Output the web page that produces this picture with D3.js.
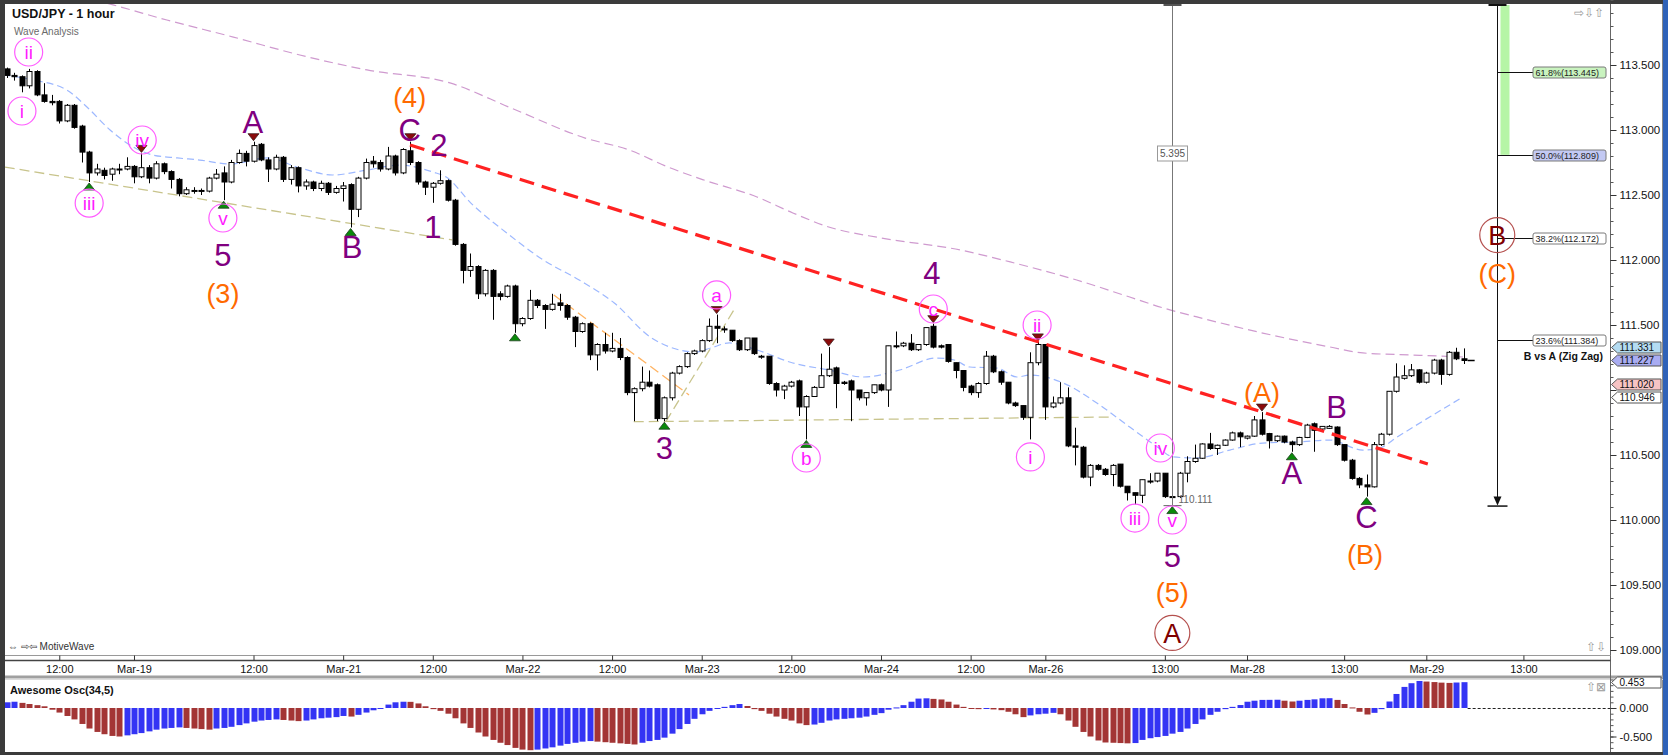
<!DOCTYPE html>
<html>
<head>
<meta charset="utf-8">
<script src="https://cdn.jsdelivr.net/npm/d3@7"></script>
<style>
html, body { margin:0; padding:0; background:#fff; overflow:hidden; }
svg { display:block; font-family:"Liberation Sans", Arial, sans-serif; }
</style>
</head>
<body>
<script>
//------------------------------------------------------------------------------
//
// Data
//
//------------------------------------------------------------------------------

// hourly candles, [open, high, low, close]
var ohlc = [
  [113.47,113.48,113.40,113.42],[113.42,113.44,113.38,113.41],[113.41,113.42,113.29,113.34],[113.34,113.47,113.32,113.45],
  [113.45,113.46,113.26,113.27],[113.27,113.36,113.21,113.22],[113.22,113.27,113.19,113.21],[113.22,113.23,113.05,113.07],
  [113.07,113.20,113.06,113.19],[113.19,113.20,113.01,113.02],[113.03,113.04,112.75,112.83],[112.83,112.84,112.60,112.67],
  [112.67,112.74,112.65,112.70],[112.69,112.71,112.62,112.65],[112.66,112.71,112.61,112.70],[112.70,112.74,112.66,112.70],
  [112.70,112.79,112.69,112.72],[112.72,112.73,112.59,112.64],[112.64,112.82,112.63,112.71],[112.71,112.73,112.59,112.63],
  [112.63,112.76,112.62,112.74],[112.74,112.75,112.66,112.68],[112.68,112.69,112.55,112.62],[112.62,112.63,112.49,112.51],
  [112.51,112.56,112.50,112.54],[112.53,112.56,112.51,112.535],[112.53,112.55,112.50,112.535],[112.53,112.64,112.52,112.63],
  [112.63,112.70,112.62,112.66],[112.67,112.72,112.46,112.60],[112.60,112.77,112.59,112.75],[112.75,112.85,112.74,112.82],
  [112.82,112.84,112.72,112.76],[112.76,112.91,112.75,112.88],[112.89,112.90,112.76,112.77],[112.77,112.79,112.60,112.70],
  [112.70,112.81,112.69,112.79],[112.79,112.80,112.60,112.62],[112.62,112.73,112.58,112.71],[112.71,112.72,112.52,112.57],
  [112.57,112.62,112.54,112.60],[112.60,112.61,112.53,112.55],[112.55,112.61,112.53,112.59],[112.59,112.60,112.50,112.52],
  [112.52,112.57,112.51,112.55],[112.55,112.60,112.45,112.57],[112.58,112.59,112.25,112.39],[112.39,112.64,112.33,112.63],
  [112.63,112.78,112.62,112.75],[112.76,112.80,112.71,112.74],[112.75,112.77,112.68,112.70],[112.70,112.87,112.69,112.80],
  [112.80,112.81,112.65,112.67],[112.67,112.86,112.66,112.85],[112.84,112.91,112.73,112.75],[112.75,112.76,112.58,112.60],
  [112.60,112.61,112.50,112.56],[112.56,112.60,112.44,112.59],[112.59,112.69,112.58,112.61],[112.61,112.62,112.45,112.46],
  [112.46,112.47,112.11,112.12],[112.12,112.13,111.82,111.92],[111.92,112.05,111.87,111.95],[111.95,111.96,111.70,111.74],
  [111.74,111.93,111.72,111.92],[111.92,111.93,111.54,111.72],[111.74,111.76,111.69,111.72],[111.72,111.81,111.71,111.80],
  [111.80,111.81,111.44,111.51],[111.51,111.56,111.49,111.55],[111.55,111.77,111.54,111.69],[111.69,111.70,111.63,111.65],
  [111.65,111.66,111.47,111.62],[111.62,111.74,111.61,111.66],[111.67,111.74,111.61,111.65],[111.65,111.66,111.54,111.56],
  [111.56,111.57,111.33,111.45],[111.45,111.52,111.44,111.51],[111.51,111.52,111.23,111.27],[111.27,111.36,111.15,111.35],
  [111.35,111.44,111.28,111.30],[111.30,111.44,111.29,111.32],[111.32,111.40,111.23,111.25],[111.25,111.26,110.96,110.98],
  [110.98,111.02,110.76,111.01],[111.01,111.18,110.99,111.06],[111.06,111.15,111.02,111.03],[111.04,111.05,110.76,110.78],
  [110.78,110.95,110.76,110.94],[110.94,111.14,110.92,111.13],[111.13,111.19,111.12,111.18],[111.18,111.29,111.17,111.28],
  [111.28,111.31,111.27,111.30],[111.30,111.39,111.29,111.38],[111.38,111.55,111.37,111.49],[111.49,111.58,111.36,111.475],
  [111.47,111.49,111.44,111.465],[111.46,111.46,111.37,111.38],[111.38,111.39,111.30,111.31],[111.31,111.40,111.30,111.40],
  [111.40,111.40,111.27,111.28],[111.26,111.27,111.24,111.26],[111.26,111.26,111.04,111.05],[111.05,111.06,110.95,111.00],
  [111.00,111.04,110.93,111.03],[111.03,111.07,111.02,111.06],[111.07,111.08,110.80,110.87],[110.87,110.96,110.62,110.95],
  [110.95,111.03,110.95,111.02],[111.02,111.28,111.02,111.11],[111.11,111.33,111.10,111.16],[111.17,111.18,110.86,111.05],
  [111.06,111.07,111.04,111.05],[111.07,111.08,110.76,111.00],[111.00,111.00,110.92,110.94],[110.94,110.98,110.88,110.98],
  [110.98,111.04,110.97,111.04],[111.04,111.05,110.99,111.00],[111.00,111.34,110.87,111.34],[111.34,111.45,111.32,111.335],
  [111.34,111.37,111.33,111.36],[111.36,111.43,111.30,111.31],[111.31,111.35,111.30,111.35],[111.35,111.48,111.34,111.48],
  [111.49,111.51,111.32,111.33],[111.34,111.35,111.32,111.33],[111.35,111.35,111.21,111.22],[111.21,111.21,111.09,111.15],
  [111.15,111.15,110.99,111.02],[111.03,111.04,110.96,110.98],[110.98,111.06,110.94,111.05],[111.05,111.30,111.04,111.26],
  [111.26,111.27,111.13,111.14],[111.14,111.15,111.04,111.06],[111.06,111.06,110.89,110.90],[110.90,110.91,110.87,110.88],
  [110.88,110.88,110.77,110.79],[110.79,111.29,110.62,111.21],[111.21,111.37,111.19,111.35],[111.35,111.35,110.77,110.87],
  [110.87,110.95,110.86,110.90],[110.90,111.06,110.89,110.94],[110.94,111.02,110.56,110.57],[110.57,110.71,110.42,110.56],
  [110.56,110.57,110.32,110.33],[110.33,110.43,110.26,110.42],[110.42,110.43,110.38,110.39],[110.39,110.40,110.34,110.35],
  [110.35,110.43,110.26,110.42],[110.43,110.43,110.25,110.26],[110.26,110.26,110.15,110.21],[110.21,110.21,110.12,110.19],
  [110.19,110.31,110.13,110.31],[110.30,110.36,110.28,110.30],[110.30,110.36,110.29,110.36],[110.36,110.36,110.17,110.18],
  [110.18,110.19,110.111,110.175],[110.18,110.37,110.17,110.36],[110.36,110.49,110.29,110.45],[110.45,110.58,110.44,110.475],
  [110.475,110.59,110.47,110.585],[110.585,110.67,110.54,110.55],[110.55,110.58,110.50,110.575],[110.575,110.62,110.57,110.615],
  [110.615,110.68,110.61,110.67],[110.67,110.68,110.56,110.64],[110.63,110.65,110.62,110.645],[110.645,110.80,110.64,110.77],
  [110.77,110.83,110.65,110.66],[110.665,110.67,110.55,110.61],[110.61,110.65,110.60,110.645],[110.645,110.65,110.59,110.60],
  [110.60,110.61,110.525,110.58],[110.58,110.64,110.57,110.635],[110.635,110.74,110.63,110.73],[110.74,110.75,110.525,110.69],
  [110.70,110.72,110.69,110.72],[110.705,110.73,110.70,110.72],[110.715,110.72,110.57,110.58],[110.58,110.58,110.45,110.46],
  [110.46,110.47,110.31,110.32],[110.32,110.33,110.245,110.27],[110.27,110.35,110.18,110.255],[110.255,110.60,110.25,110.58],
  [110.58,110.67,110.57,110.66],[110.66,110.99,110.65,110.99],[110.99,111.205,110.98,111.10],[111.09,111.19,111.08,111.11],
  [111.11,111.20,111.10,111.155],[111.155,111.16,111.05,111.06],[111.06,111.14,111.05,111.13],[111.13,111.24,111.12,111.23],
  [111.23,111.24,111.04,111.12],[111.12,111.30,111.11,111.29],[111.29,111.325,111.23,111.24],[111.24,111.32,111.20,111.227]
];

// Awesome Oscillator, one value per candle
var aoValues = [
  0.10,0.11,0.09,0.07,0.05,0.03,-0.03,-0.08,-0.14,-0.20,-0.28,-0.36,-0.42,-0.46,-0.49,-0.50,
  -0.48,-0.46,-0.44,-0.41,-0.38,-0.36,-0.35,-0.34,-0.35,-0.36,-0.37,-0.38,-0.36,-0.35,-0.33,-0.30,
  -0.27,-0.24,-0.22,-0.21,-0.20,-0.21,-0.22,-0.23,-0.22,-0.20,-0.18,-0.17,-0.16,-0.14,-0.15,-0.12,
  -0.08,-0.04,-0.01,0.06,0.10,0.11,0.108,0.08,0.03,-0.02,-0.05,-0.10,-0.18,-0.27,-0.35,-0.43,
  -0.50,-0.56,-0.61,-0.65,-0.70,-0.73,-0.74,-0.73,-0.71,-0.69,-0.66,-0.63,-0.61,-0.59,-0.58,-0.59,
  -0.60,-0.61,-0.62,-0.63,-0.64,-0.61,-0.58,-0.56,-0.52,-0.45,-0.37,-0.28,-0.19,-0.11,-0.05,-0.01,
  0.02,0.05,0.07,0.035,-0.02,-0.05,-0.10,-0.15,-0.19,-0.22,-0.27,-0.30,-0.29,-0.26,-0.22,-0.20,
  -0.19,-0.18,-0.17,-0.15,-0.12,-0.09,-0.03,0.01,0.05,0.11,0.165,0.17,0.16,0.15,0.11,0.06,
  0.02,-0.01,-0.02,-0.01,-0.025,-0.038,-0.066,-0.11,-0.16,-0.13,-0.11,-0.10,-0.085,-0.11,-0.22,-0.33,
  -0.42,-0.50,-0.57,-0.605,-0.61,-0.615,-0.62,-0.615,-0.56,-0.53,-0.51,-0.49,-0.45,-0.42,-0.36,-0.28,
  -0.20,-0.12,-0.066,-0.02,0.02,0.052,0.11,0.128,0.142,0.143,0.145,0.128,0.114,0.128,0.142,0.152,
  0.17,0.172,0.142,0.07,0.01,-0.066,-0.114,-0.085,-0.02,0.114,0.246,0.37,0.435,0.474,0.464,0.455,
  0.445,0.44,0.447,0.453
];

// moving averages, [candle index, price]
var maFast = [
  [-0.5,113.423],[3.5,113.385],[8,113.308],[10.7,113.177],[13.8,113.0],[16.9,112.869],[19.5,112.808],
  [22.8,112.785],[25.8,112.769],[29.9,112.738],[34.8,112.785],[39.2,112.708],[43.6,112.654],[48.2,112.692],
  [52.6,112.73],[57,112.677],[58.8,112.638],[62.1,112.438],[66.9,112.208],[71.8,112.0],[76.6,111.846],
  [81.3,111.669],[86.1,111.408],[90,111.308],[92.2,111.292],[94.2,111.323],[96.7,111.362],[100.4,111.308],
  [105.2,111.208],[110,111.154],[114.7,111.1],[119.5,111.154],[124.4,111.246],[126.8,111.231],[128.9,111.177],
  [132.5,111.169],[135.2,111.1],[137,111.115],[141.4,111.054],[145.9,110.9],[150.3,110.715],[154,110.562],
  [156.1,110.485],[159.3,110.477],[163.7,110.538],[168.1,110.592],[172.7,110.6],[177.1,110.615],[181.5,110.538],
  [183.8,110.554],[186.1,110.638],[194.9,110.946]
];
var maSlow = [
  [8,114.05],[14.2,113.962],[21.4,113.846],[30.3,113.715],[39.2,113.577],[48.2,113.462],[59.3,113.362],
  [67.5,113.169],[77.4,112.938],[83.3,112.846],[88.5,112.715],[93.3,112.615],[100.4,112.485],[105.2,112.362],
  [110,112.254],[117.1,112.169],[127.6,112.077],[134.3,111.985],[143.2,111.846],[150.3,111.715],[154.8,111.631],
  [159.3,111.562],[168.1,111.438],[177.1,111.331],[181.5,111.285],[188.2,111.269],[194.9,111.254]
];

// channel / trend lines, [[index, price], [index, price]]
var trendLine = [[53.95,112.885],[190.2,110.431]];
var channelLines = [
  {pts:[[-0.3,112.715],[59.6,112.154]], color:"#c8c48c"},
  {pts:[[83.9,110.756],[147.7,110.792]], color:"#c8c48c"},
  {pts:[[73.2,111.731],[91.3,110.962]], color:"#ffb463"},
  {pts:[[88.2,110.756],[97.3,111.615]], color:"#c8c48c"}
];

var priceTicks = [109, 109.5, 110, 110.5, 111, 111.5, 112, 112.5, 113, 113.5];
var timeTicks = [
  [7,"12:00"],[17,"Mar-19"],[33,"12:00"],[45,"Mar-21"],[57,"12:00"],[69,"Mar-22"],[81,"12:00"],
  [93,"Mar-23"],[105,"12:00"],[117,"Mar-24"],[129,"12:00"],[139,"Mar-26"],[155,"13:00"],
  [166,"Mar-28"],[179,"13:00"],[190,"Mar-29"],[203,"13:00"]
];

// swing markers: candle indices
var lowMarks = [11, 29, 46, 68, 88, 107, 156, 172, 182];
var highMarks = [18, 33, 54, 95, 110, 124, 138, 168];

// wave labels [text, index, price]
var subLabels = [
  ["ii",2.9,113.60],["i",2.0,113.146],["iv",18.1,112.923],["iii",11.0,112.438],["v",28.9,112.323],
  ["a",95.0,111.731],["b",107.0,110.477],["c",124.0,111.623],
  ["ii",137.9,111.50],["i",137.0,110.485],["iv",154.4,110.554],["iii",151.0,110.015],["v",156.0,110.0]
];
var minorLabels = [
  ["5",28.9,112.038],["A",32.9,113.062],["B",46.2,112.10],["C",53.9,113.0],["2",57.8,112.885],["1",57.0,112.254],
  ["3",88.0,110.554],["4",123.8,111.90],["5",156.0,109.723],["A",172.0,110.362],["B",178.0,110.869],["C",182.0,110.023]
];
var intermediateLabels = [
  ["(4)",53.9,113.254],["(3)",28.9,111.746],["(5)",156.0,109.446],["(A)",168.0,110.985],["(B)",181.8,109.738],["(C)",199.5,111.90]
];
var primaryLabels = [["A",156.0,109.131],["B",199.5,112.192]];

// B vs A retracement tool
var fibIndex = 199.5, fibLow = 110.111;
var fibLevels = [
  ["61.8%", 113.445, "#c9f3bf"],
  ["50.0%", 112.809, "#c3c9f3"],
  ["38.2%", 112.172, "#ffffff"],
  ["23.6%", 111.384, "#ffffff"]
];
var measureIndex = 156, measureText = "5.395", measureLowText = "110.111";

// tags on the price axis [price, fill]
var priceTags = [[111.331,"#b4dcf2"],[111.227,"#a9acf2"],[111.020,"#f7c4c4"],[110.946,"#ffffff"]];
var aoLast = 0.453;


//------------------------------------------------------------------------------
//
// Chart
//
//------------------------------------------------------------------------------

var chart = {

plot : { left: 5, right: 1610, top: 4, bottom: 655 },
osc : { top: 679, bottom: 751 },
candleWidth: 5,
tagGap: 13,

initialize : function() {
  this.svg = d3.select("body").append("svg")
    .attr("width", 1668)
    .attr("height", 755);

  this.x = d3.scaleLinear().domain([0, 195]).range([7, 7 + 195 * 7.47]);
  this.y = d3.scaleLinear().domain([109, 114]).range([650, 0]);
  this.yOsc = d3.scaleLinear().domain([0, -0.5]).range([708, 736.5]);

  var defs = this.svg.append("defs");
  defs.append("clipPath").attr("id", "clipPrice").append("rect")
    .attr("x", this.plot.left).attr("y", this.plot.top)
    .attr("width", this.plot.right - this.plot.left).attr("height", this.plot.bottom - this.plot.top);
  defs.append("clipPath").attr("id", "clipOsc").append("rect")
    .attr("x", this.plot.left).attr("y", this.osc.top)
    .attr("width", this.plot.right - this.plot.left).attr("height", this.osc.bottom - this.osc.top);

  this.drawFrame();
  this.price = this.svg.append("g").attr("clip-path", "url(#clipPrice)");
  this.drawGuides();
  this.drawAverages();
  this.drawCandles();
  this.drawMarkers();
  this.drawTools();
  this.drawLabels();
  this.drawAxes();
  this.drawOscillator();
  this.drawTags();
},

//--------------------------------------
// Frame
//--------------------------------------

drawFrame : function() {
  var s = this.svg;
  s.append("rect").attr("width", 1668).attr("height", 755).attr("fill", "#ffffff");
  s.append("rect").attr("x", 0).attr("y", 0).attr("width", 1668).attr("height", 4).attr("fill", "#3b3b3b");
  s.append("rect").attr("x", 0).attr("y", 0).attr("width", 5).attr("height", 755).attr("fill", "#3b3b3b");
  s.append("rect").attr("x", 0).attr("y", 752).attr("width", 1668).attr("height", 3).attr("fill", "#3b3b3b");
  s.append("rect").attr("x", 1663).attr("y", 0).attr("width", 5).attr("height", 755).attr("fill", "#2f62b8");
  s.append("line").attr("x1", 1662.5).attr("x2", 1662.5).attr("y1", 4).attr("y2", 752)
    .attr("stroke", "#8a8a8a");

  // separator between time axis and oscillator
  s.append("rect").attr("x", 5).attr("y", 675.5).attr("width", 1658).attr("height", 3).attr("fill", "#a0a0a0");
  s.append("line").attr("x1", 5).attr("x2", 1663).attr("y1", 679.5).attr("y2", 679.5).attr("stroke", "#dcdcdc");

  s.append("text").attr("x", 12).attr("y", 18)
    .attr("font-size", "12.5px").attr("font-weight", "bold").attr("fill", "#111")
    .text("USD/JPY - 1 hour");
  s.append("text").attr("x", 14).attr("y", 35)
    .attr("font-size", "10px").attr("fill", "#6a6a6a")
    .text("Wave Analysis");

  s.append("text").attr("x", 8).attr("y", 650)
    .attr("font-size", "10px").attr("fill", "#333")
    .text("\u21D4 \u21E8\u21E6 MotiveWave");
  s.append("text").attr("x", 1604).attr("y", 17).attr("text-anchor", "end")
    .attr("font-size", "12px").attr("fill", "#9a9a9a")
    .text("\u21E8\u21E9\u21E7");
  s.append("text").attr("x", 1606).attr("y", 651).attr("text-anchor", "end")
    .attr("font-size", "12px").attr("fill", "#9a9a9a")
    .text("\u21E7\u21E9");
  s.append("text").attr("x", 1606).attr("y", 691).attr("text-anchor", "end")
    .attr("font-size", "12px").attr("fill", "#9a9a9a")
    .text("\u21E7\u22A0");
},

//--------------------------------------
// Price panel
//--------------------------------------

drawGuides : function() {
  var $this = this;
  var line = d3.line().x(function(d) { return $this.x(d[0]); }).y(function(d) { return $this.y(d[1]); });

  this.price.selectAll(".channel")
    .data(channelLines)
    .enter().append("path")
      .attr("class", "channel")
      .attr("d", function(d) { return line(d.pts); })
      .attr("fill", "none")
      .attr("stroke", function(d) { return d.color; })
      .attr("stroke-width", 1.3)
      .attr("stroke-dasharray", "10,5");
},

drawAverages : function() {
  var $this = this;
  var line = d3.line().curve(d3.curveMonotoneX)
    .x(function(d) { return $this.x(d[0]); })
    .y(function(d) { return $this.y(d[1]); });

  this.price.append("path").attr("d", line(maSlow))
    .attr("fill", "none").attr("stroke", "#cf9acf").attr("stroke-width", 1.2)
    .attr("stroke-dasharray", "9,5");
  this.price.append("path").attr("d", line(maFast))
    .attr("fill", "none").attr("stroke", "#9db8ff").attr("stroke-width", 1.2)
    .attr("stroke-dasharray", "7,4");
},

drawCandles : function() {
  var $this = this;
  var w = this.candleWidth;
  var g = this.price.append("g");

  var c = g.selectAll(".candle")
    .data(ohlc)
    .enter().append("g")
      .attr("class", "candle")
      .attr("transform", function(d, i) { return "translate(" + (Math.round($this.x(i)) + 0.5) + ",0)"; });

  c.append("line")
    .attr("y1", function(d) { return $this.y(d[1]); })
    .attr("y2", function(d) { return $this.y(d[2]); })
    .attr("stroke", "#000").attr("stroke-width", 1);

  c.append("rect")
    .attr("x", -w / 2)
    .attr("y", function(d) { return $this.y(Math.max(d[0], d[3])); })
    .attr("width", w)
    .attr("height", function(d) { return Math.max(1, Math.abs($this.y(d[0]) - $this.y(d[3]))); })
    .attr("fill", function(d) { return d[3] >= d[0] ? "#ffffff" : "#000000"; })
    .attr("stroke", "#000").attr("stroke-width", 1);

  // last price dash
  var last = ohlc[ohlc.length - 1];
  var lx = this.x(ohlc.length - 1);
  g.append("line").attr("x1", lx + 4).attr("x2", lx + 11)
    .attr("y1", Math.round(this.y(last[3])) + 0.5).attr("y2", Math.round(this.y(last[3])) + 0.5)
    .attr("stroke", "#000").attr("stroke-width", 1.5);
},

drawMarkers : function() {
  var $this = this;
  var g = this.price.append("g");

  g.selectAll(".lowMark").data(lowMarks).enter().append("path")
    .attr("d", function(i) {
      var x = $this.x(i), y = $this.y(ohlc[i][2]) + 1;
      return "M" + x + "," + y + "L" + (x + 5.5) + "," + (y + 7) + "L" + (x - 5.5) + "," + (y + 7) + "Z";
    })
    .attr("fill", "#0a8a0a").attr("stroke", "#1f3d1f").attr("stroke-width", 0.8);

  g.selectAll(".highMark").data(highMarks).enter().append("path")
    .attr("d", function(i) {
      var x = $this.x(i), y = $this.y(ohlc[i][1]) - 1;
      return "M" + x + "," + y + "L" + (x + 5.5) + "," + (y - 7) + "L" + (x - 5.5) + "," + (y - 7) + "Z";
    })
    .attr("fill", "#8b0a0a").attr("stroke", "#3d1f1f").attr("stroke-width", 0.8);
},

drawTools : function() {
  var $this = this;
  var g = this.price.append("g");
  var top = this.plot.top + 1;

  // measure line
  var mx = Math.round(this.x(measureIndex)) + 0.5;
  var my = this.y(fibLow);
  g.append("line").attr("x1", mx).attr("x2", mx).attr("y1", top).attr("y2", my)
    .attr("stroke", "#777").attr("stroke-width", 1);
  g.append("line").attr("x1", mx - 9).attr("x2", mx + 9).attr("y1", top).attr("y2", top)
    .attr("stroke", "#555").attr("stroke-width", 2);
  g.append("line").attr("x1", mx - 9).attr("x2", mx + 9).attr("y1", my).attr("y2", my)
    .attr("stroke", "#777").attr("stroke-width", 1.2);
  g.append("rect").attr("x", mx - 15).attr("y", 146).attr("width", 30).attr("height", 15)
    .attr("fill", "#fff").attr("stroke", "#999");
  g.append("text").attr("x", mx).attr("y", 157).attr("text-anchor", "middle")
    .attr("font-size", "10px").attr("fill", "#555").text(measureText);
  g.append("text").attr("x", mx + 6).attr("y", my - 3)
    .attr("font-size", "10px").attr("fill", "#666").text(measureLowText);

  // red trend line
  g.append("line")
    .attr("x1", this.x(trendLine[0][0])).attr("y1", this.y(trendLine[0][1]))
    .attr("x2", this.x(trendLine[1][0])).attr("y2", this.y(trendLine[1][1]))
    .attr("stroke", "#ff2222").attr("stroke-width", 3.2)
    .attr("stroke-dasharray", "15,8");

  // retracement tool
  var fx = Math.round(this.x(fibIndex)) + 0.5;
  var fy = this.y(fibLow);
  g.append("rect").attr("x", fx + 3).attr("y", top).attr("width", 9)
    .attr("height", this.y(fibLevels[1][1]) - top)
    .attr("fill", "#b6f5a6");
  g.append("line").attr("x1", fx).attr("x2", fx).attr("y1", top).attr("y2", fy - 8)
    .attr("stroke", "#111").attr("stroke-width", 1);
  g.append("line").attr("x1", fx - 9).attr("x2", fx + 9).attr("y1", top).attr("y2", top)
    .attr("stroke", "#111").attr("stroke-width", 2);
  g.append("path").attr("d", "M" + fx + "," + fy + "L" + (fx - 4) + "," + (fy - 9) + "L" + (fx + 4) + "," + (fy - 9) + "Z")
    .attr("fill", "#111");
  g.append("line").attr("x1", fx - 10).attr("x2", fx + 10).attr("y1", fy + 0.5).attr("y2", fy + 0.5)
    .attr("stroke", "#111").attr("stroke-width", 1.5);

  var lv = g.selectAll(".fib").data(fibLevels).enter().append("g").attr("class", "fib");
  lv.append("line")
    .attr("x1", fx).attr("x2", 1533)
    .attr("y1", function(d) { return Math.round($this.y(d[1])) + 0.5; })
    .attr("y2", function(d) { return Math.round($this.y(d[1])) + 0.5; })
    .attr("stroke", "#111");
  lv.append("rect")
    .attr("x", 1533).attr("width", 73).attr("height", 11).attr("rx", 2)
    .attr("y", function(d) { return Math.round($this.y(d[1])) - 5; })
    .attr("fill", function(d) { return d[2]; })
    .attr("stroke", "#7a7a7a");
  lv.append("text")
    .attr("x", 1535.5)
    .attr("y", function(d) { return Math.round($this.y(d[1])) + 4; })
    .attr("font-size", "9px").attr("fill", "#222")
    .text(function(d) { return d[0] + "(" + d[1].toFixed(3) + ")"; });

  g.append("text").attr("x", 1603).attr("y", 360).attr("text-anchor", "end")
    .attr("font-size", "10.5px").attr("font-weight", "bold").attr("fill", "#111")
    .text("B vs A (Zig Zag)");
},

drawLabels : function() {
  var $this = this;
  var g = this.price.append("g");
  var px = function(d) { return $this.x(d[1]); };
  var py = function(d) { return $this.y(d[2]); };

  var sub = g.selectAll(".sub").data(subLabels).enter().append("g");
  sub.append("circle").attr("cx", px).attr("cy", py).attr("r", 14)
    .attr("fill", "none").attr("stroke", "#ff5cff").attr("stroke-width", 1.2);
  sub.append("text").attr("x", px).attr("y", py).attr("dy", "0.36em")
    .attr("text-anchor", "middle").attr("font-size", "19px").attr("fill", "#ff1cff")
    .text(function(d) { return d[0]; });

  g.selectAll(".minor").data(minorLabels).enter().append("text")
    .attr("x", px).attr("y", py).attr("dy", "0.36em")
    .attr("text-anchor", "middle").attr("font-size", "31px").attr("fill", "#800080")
    .text(function(d) { return d[0]; });

  g.selectAll(".inter").data(intermediateLabels).enter().append("text")
    .attr("x", px).attr("y", py).attr("dy", "0.36em")
    .attr("text-anchor", "middle").attr("font-size", "27px").attr("fill", "#ff6a00")
    .text(function(d) { return d[0]; });

  var prim = g.selectAll(".primary").data(primaryLabels).enter().append("g");
  prim.append("circle").attr("cx", px).attr("cy", py).attr("r", 17.5)
    .attr("fill", "none").attr("stroke", "#b5514f").attr("stroke-width", 1.2);
  prim.append("text").attr("x", px).attr("y", py).attr("dy", "0.36em")
    .attr("text-anchor", "middle").attr("font-size", "27px").attr("fill", "#800000")
    .text(function(d) { return d[0]; });
},

//--------------------------------------
// Axes
//--------------------------------------

drawAxes : function() {
  var $this = this;
  var s = this.svg;
  var axisX = this.plot.right + 0.5;

  s.append("line").attr("x1", axisX).attr("x2", axisX).attr("y1", 4).attr("y2", 752)
    .attr("stroke", "#666");

  var minor = s.append("g").attr("transform", "translate(" + axisX + ",0)")
    .call(d3.axisRight(this.y).tickValues(d3.range(109, 114.01, 0.1)).tickSize(3).tickFormat(""));
  minor.select(".domain").remove();
  minor.selectAll("text").remove();
  minor.selectAll("line").attr("stroke", "#555");

  // the 111.000 label sits under the price tags, as in the original
  var ax = s.append("g").attr("transform", "translate(" + axisX + ",0)")
    .call(d3.axisRight(this.y).tickValues(priceTicks).tickSize(6).tickPadding(3)
      .tickFormat(function(d) { return d === 111 ? "" : d.toFixed(3); }));
  ax.select(".domain").remove();
  ax.selectAll("line").attr("stroke", "#333");
  ax.selectAll("text").attr("font-size", "11.5px").attr("fill", "#111")
    .attr("font-family", "\"Liberation Sans\", Arial, sans-serif");

  // time axis
  s.append("line").attr("x1", 5).attr("x2", axisX).attr("y1", 655.5).attr("y2", 655.5).attr("stroke", "#999");
  s.append("line").attr("x1", 5).attr("x2", axisX).attr("y1", 660.5).attr("y2", 660.5)
    .attr("stroke", "#444").attr("stroke-width", 1.5);
  var xa = s.append("g").attr("transform", "translate(0,655.5)")
    .call(d3.axisBottom(this.x).tickValues(timeTicks.map(function(d) { return d[0]; }))
      .tickSize(5).tickPadding(5)
      .tickFormat(function(d, i) { return timeTicks[i][1]; }));
  xa.select(".domain").remove();
  xa.selectAll("line").attr("stroke", "#333");
  xa.selectAll("text").attr("font-size", "11px").attr("fill", "#111")
    .attr("font-family", "\"Liberation Sans\", Arial, sans-serif");
},

//--------------------------------------
// Awesome Oscillator
//--------------------------------------

drawOscillator : function() {
  var $this = this;
  var s = this.svg;
  var g = s.append("g").attr("clip-path", "url(#clipOsc)");
  var zero = this.yOsc(0);

  g.selectAll(".ao").data(aoValues).enter().append("rect")
    .attr("x", function(d, i) { return Math.round($this.x(i)) - 2.5; })
    .attr("width", 6)
    .attr("y", function(d) { return d >= 0 ? $this.yOsc(d) : zero; })
    .attr("height", function(d) { return Math.max(1, Math.abs($this.yOsc(d) - zero)); })
    .attr("fill", function(d, i) { return (i === 0 || d >= aoValues[i - 1]) ? "#3434f4" : "#a33535"; });

  var endX = this.x(aoValues.length - 1) + 4;
  s.append("line").attr("x1", endX).attr("x2", this.plot.right).attr("y1", zero + 0.5).attr("y2", zero + 0.5)
    .attr("stroke", "#222").attr("stroke-dasharray", "3,2");

  s.append("text").attr("x", 10).attr("y", 694)
    .attr("font-size", "11px").attr("font-weight", "bold").attr("fill", "#111")
    .text("Awesome Osc(34,5)");

  var axisX = this.plot.right + 0.5;
  var minor = s.append("g").attr("transform", "translate(" + axisX + ",0)")
    .call(d3.axisRight(this.yOsc).tickValues(d3.range(-0.7, 0.51, 0.1)).tickSize(3).tickFormat(""));
  minor.select(".domain").remove();
  minor.selectAll("text").remove();
  minor.selectAll("line").attr("stroke", "#555");
  var ax = s.append("g").attr("transform", "translate(" + axisX + ",0)")
    .call(d3.axisRight(this.yOsc).tickValues([0, -0.5]).tickSize(6).tickPadding(3)
      .tickFormat(function(d) { return d.toFixed(3); }));
  ax.select(".domain").remove();
  ax.selectAll("line").attr("stroke", "#333");
  ax.selectAll("text").attr("font-size", "11.5px").attr("fill", "#111")
    .attr("font-family", "\"Liberation Sans\", Arial, sans-serif");

  this.tag(Math.round(this.yOsc(aoLast)) + 0.5, aoLast.toFixed(3), "#ffffff");
},

//--------------------------------------
// Price tags
//--------------------------------------

tag : function(y, label, fill) {
  var x0 = this.plot.right + 1.5;
  this.svg.append("path")
    .attr("d", "M" + x0 + "," + y + "L" + (x0 + 6) + "," + (y - 5.5) + "L1661," + (y - 5.5) +
      "L1661," + (y + 5.5) + "L" + (x0 + 6) + "," + (y + 5.5) + "Z")
    .attr("fill", fill).attr("stroke", "#555").attr("stroke-width", 1);
  this.svg.append("text").attr("x", x0 + 8).attr("y", y + 3.5)
    .attr("font-size", "10px").attr("fill", "#111").text(label);
},

drawTags : function() {
  var $this = this;
  // keep tags apart so their texts stay readable, push upper ones up
  var ys = priceTags.map(function(d) { return Math.round($this.y(d[0])) + 0.5; });
  for (var k = ys.length - 2; k >= 0; k--) {
    if (ys[k + 1] - ys[k] < this.tagGap) ys[k] = ys[k + 1] - this.tagGap;
  }
  priceTags.forEach(function(d, k) {
    $this.tag(ys[k], d[0].toFixed(3), d[1]);
  });
}

};

chart.initialize();
</script>
</body>
</html>
